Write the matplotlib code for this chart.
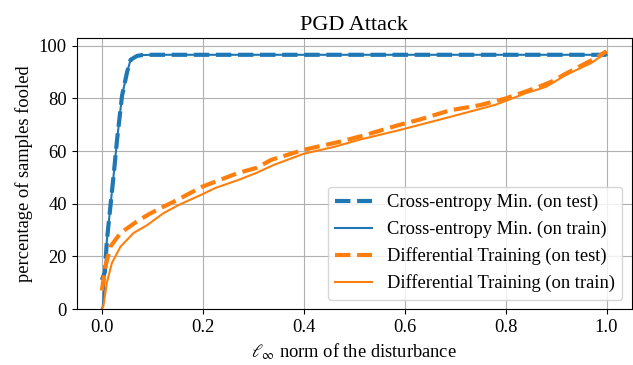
import matplotlib
matplotlib.use("Agg")
import matplotlib.pyplot as plt

plt.rcParams['font.family'] = ['Liberation Serif', 'DejaVu Serif']
plt.rcParams['mathtext.fontset'] = 'stix'

# Cross-entropy minimisation
ce_test_x = [0.0, 0.006, 0.01, 0.017, 0.024, 0.03, 0.04, 0.05, 0.057, 0.07, 0.08, 0.1, 1.0]
ce_test_y = [11.0, 14.0, 26.0, 39.0, 52.0, 64.0, 81.0, 90.0, 94.7, 96.2, 96.5, 96.6, 96.6]
ce_train_x = [0.0, 0.002, 0.006, 0.01, 0.017, 0.024, 0.03, 0.04, 0.05, 0.057, 0.07, 0.08, 0.1, 1.0]
ce_train_y = [0.0, 1.0, 13.6, 26.0, 39.0, 52.0, 64.0, 81.0, 90.0, 94.7, 96.2, 96.5, 96.6, 96.6]

# Differential training
dt_test_x = [0.0, 0.007, 0.017, 0.037, 0.069, 0.093, 0.116, 0.15, 0.198, 0.27, 0.306, 0.336,
             0.4, 0.47, 0.52, 0.59, 0.63, 0.69, 0.75, 0.8, 0.83, 0.86, 0.89, 0.92, 0.95,
             0.98, 1.0]
dt_test_y = [7.0, 16.0, 23.7, 28.9, 33.2, 36.0, 38.3, 41.5, 46.4, 51.7, 53.6, 56.7,
             60.5, 63.5, 66.0, 70.0, 72.0, 75.5, 77.5, 80.0, 82.0, 84.0, 86.3, 89.5, 92.5,
             95.5, 98.0]
dt_train_x = [0.0, 0.003, 0.01, 0.02, 0.037, 0.063, 0.09, 0.122, 0.152, 0.198, 0.225, 0.27,
              0.306, 0.34, 0.4, 0.46, 0.51, 0.59, 0.63, 0.69, 0.78, 0.84, 0.88, 0.92, 0.97,
              1.0]
dt_train_y = [0.0, 1.0, 10.0, 17.5, 23.7, 28.9, 31.9, 36.4, 39.5, 43.5, 46.0, 49.0,
              51.7, 54.7, 59.0, 61.6, 64.3, 68.0, 70.0, 73.0, 77.6, 82.0, 84.4, 89.0, 93.5,
              97.5]

labels = ["Cross-entropy Min. (on test)", "Cross-entropy Min. (on train)",
          "Differential Training (on test)", "Differential Training (on train)"]

blue = '#1f77b4'
orange = '#ff7f0e'
fs = 13.3

fig = plt.figure(figsize=(6.33, 3.65), dpi=100)
ax = fig.add_axes([0.121, 0.1534, 0.877, 0.7426])

ax.plot(ce_test_x, ce_test_y, '--', color=blue, lw=3, label=labels[0])
ax.plot(ce_train_x, ce_train_y, '-', color=blue, lw=1.5, label=labels[1])
ax.plot(dt_test_x, dt_test_y, '--', color=orange, lw=3, label=labels[2])
ax.plot(dt_train_x, dt_train_y, '-', color=orange, lw=1.5, label=labels[3])

ax.set_xlim(-0.05, 1.05)
ax.set_ylim(0, 103)
ax.set_xticks([0.0, 0.2, 0.4, 0.6, 0.8, 1.0])
ax.set_yticks([0, 20, 40, 60, 80, 100])
ax.grid(True, color='#b0b0b0', lw=0.8)
ax.tick_params(labelsize=fs)
ax.set_xlabel(r'$\ell_\infty$ norm of the disturbance', fontsize=fs)
ax.set_ylabel('percentage of samples fooled', fontsize=fs)
ax.set_title('PGD Attack', fontsize=16)
ax.legend(loc='lower right', fontsize=fs)

fig.savefig('out.png', dpi=100)
